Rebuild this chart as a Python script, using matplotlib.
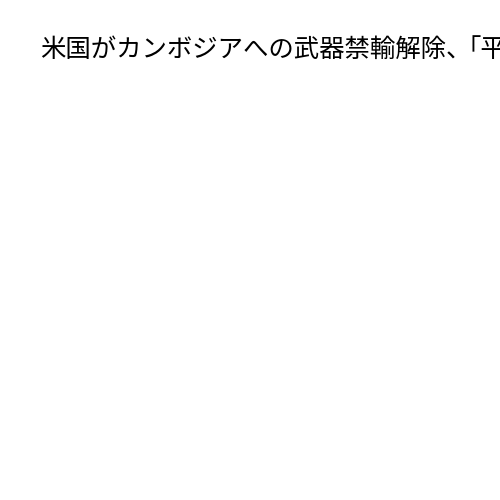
import matplotlib.pyplot as plt

plt.rcParams['font.family'] = ['Noto Sans CJK JP', 'DejaVu Sans']

# the headline runs off the right edge; punctuation is set half-width there
title_head = "米国がカンボジアへの武器禁輸解除、"
title_tail = "「平"

fig = plt.figure(figsize=(5, 5), dpi=100)
fig.patch.set_facecolor('white')
fig.text(40 / 500, 1 - 50 / 500, title_head, fontsize=18.3, color='black',
         ha='left', va='center')
fig.text(456 / 500, 1 - 50 / 500, title_tail, fontsize=18.3, color='black',
         ha='left', va='center')

fig.savefig('out.png', dpi=100)
